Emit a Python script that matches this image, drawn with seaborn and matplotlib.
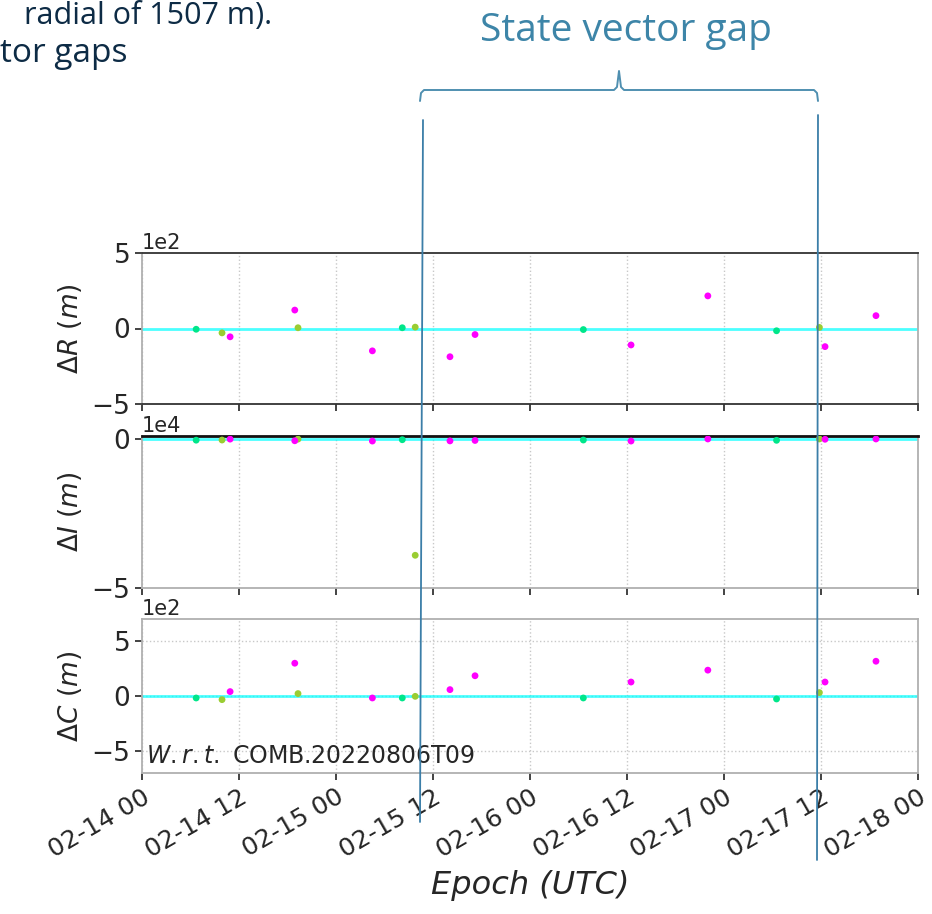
import pandas as pd
import matplotlib
matplotlib.use("Agg")
import matplotlib.pyplot as plt
import matplotlib.dates as mdates
import matplotlib.ticker as mticker
from matplotlib.lines import Line2D
import seaborn as sns

# epochs of the three solutions (UTC)
epoch_green = ["2022-02-14 06:42", "2022-02-15 08:12", "2022-02-16 06:36", "2022-02-17 06:30"]
epoch_olive = ["2022-02-14 09:54", "2022-02-14 19:18", "2022-02-15 09:48", "2022-02-17 11:48"]
epoch_pink = ["2022-02-14 10:54", "2022-02-14 18:54", "2022-02-15 04:30", "2022-02-15 14:06",
              "2022-02-15 17:12", "2022-02-16 12:30", "2022-02-16 22:00", "2022-02-17 12:30",
              "2022-02-17 18:48"]

# radial / in-track / cross-track differences (m)
dr_green = [-5, 5, -7, -15]
dr_olive = [-29, 5, 9, 7]
dr_pink = [-55, 122, -148, -187, -40, -109, 216, -120, 85]

di_green = [-300, -150, -250, -350]
di_olive = [-250, 50, -39000, 100]
di_pink = [50, -500, -600, -550, -400, -600, 100, 0, 100]

dc_green = [-18, -18, -18, -27]
dc_olive = [-33, 22, -3, 31]
dc_pink = [40, 298, -18, 58, 184, 127, 235, 127, 316]

series = ["green", "olive", "pink"]
palette = {"green": "#00e68a", "olive": "#9acd32", "pink": "#ff00ff"}

x_start, x_end = "2022-02-14 00:00", "2022-02-18 00:00"
ylabels = [r"$\Delta R\ (m)$", r"$\Delta I\ (m)$", r"$\Delta C\ (m)$"]
ylims = [(-500, 500), (-50000, 1100), (-700, 700)]
yticks = [[-500, 0, 500], [-50000, 0], [-500, 0, 500]]

frames = []
for name, ep, r, i, c in [("green", epoch_green, dr_green, di_green, dc_green),
                          ("olive", epoch_olive, dr_olive, di_olive, dc_olive),
                          ("pink", epoch_pink, dr_pink, di_pink, dc_pink)]:
    frames.append(pd.DataFrame({"epoch": pd.to_datetime(ep), "dR": r, "dI": i, "dC": c, "sol": name}))
df = pd.concat(frames, ignore_index=True)

sns.set_theme(style="white")
plt.rcParams["font.family"] = ["DejaVu Sans"]
W, H = 932, 914
fig = plt.figure(figsize=(W / 100, H / 100), dpi=100)

def px(x, y):
    return x / W, 1 - y / H

# axes boxes (left, top, right, bottom) in pixels
boxes = [(142, 253, 918, 404), (142, 436, 918, 588), (142, 619, 918, 773)]
axes = []
for (l, t, r, b) in boxes:
    axes.append(fig.add_axes([l / W, 1 - b / H, (r - l) / W, (b - t) / H]))

for k, (ax, col) in enumerate(zip(axes, ["dR", "dI", "dC"])):
    ax.axhline(0, color="#00ffff", lw=2, alpha=0.7, zorder=1)
    sns.scatterplot(data=df, x="epoch", y=col, hue="sol", palette=palette, hue_order=series,
                    s=24, edgecolor="none", legend=False, ax=ax, zorder=3)
    ax.set_xlim(pd.Timestamp(x_start), pd.Timestamp(x_end))
    ax.set_ylim(*ylims[k])
    ax.set_yticks(yticks[k])
    fmt = mticker.ScalarFormatter(useMathText=False)
    fmt.set_powerlimits((0, 0))
    ax.yaxis.set_major_formatter(fmt)
    ax.yaxis.get_offset_text().set_fontsize(15)
    ax.xaxis.set_major_locator(mdates.HourLocator(byhour=[0, 12]))
    ax.xaxis.set_major_formatter(mdates.DateFormatter("%m-%d %H"))
    ax.grid(True, axis="x", color="#c8c8c8", ls=":", lw=1)
    if k == 2:
        ax.grid(True, axis="y", color="#c8c8c8", ls=":", lw=1)
    ax.tick_params(axis="both", direction="out", length=5, width=1.2, color="#222222",
                   labelsize=19, bottom=True, left=True)
    ax.set_ylabel(ylabels[k], fontsize=19)
    ax.yaxis.set_label_coords(-0.075, 0.5)
    ax.set_xlabel("")
    for s in ax.spines.values():
        s.set_color("#b0b0b0")
        s.set_linewidth(1.3)
    if k < 2:
        ax.tick_params(labelbottom=False)

axes[0].spines["top"].set_color("#333333")
axes[0].spines["bottom"].set_color("#333333")
axes[1].spines["top"].set_color("#111111")
axes[1].spines["top"].set_linewidth(2)

ax3 = axes[2]
for lab in ax3.get_xticklabels():
    lab.set_rotation(30)
    lab.set_ha("right")
    lab.set_rotation_mode("anchor")
    lab.set_fontsize(18)
ax3.set_xlabel("Epoch (UTC)", fontsize=23, style="italic", labelpad=6)
ax3.text(0.005, 0.03, r"$W.r.t.$ COMB.20220806T09", transform=ax3.transAxes,
         fontsize=17, ha="left", va="bottom")

# slide annotations
fig.text(*px(272, 24), "radial of 1507 m).", fontsize=22, color="#0d2b45",
         family="Open Sans", ha="right", va="baseline")
fig.text(*px(128, 62), "tor gaps", fontsize=24, color="#0d2b45",
         family="Open Sans", ha="right", va="baseline")
fig.text(*px(626, 41), "State vector gap", fontsize=28, color="#3d85a8",
         family="Open Sans", ha="center", va="baseline")

blue = "#3b7ea8"
bx = [420, 421, 424, 614, 617, 619, 621, 624, 814, 817, 818]
by = [101, 93, 90, 90, 87, 71, 87, 90, 90, 93, 101]
fig.add_artist(Line2D([x / W for x in bx], [1 - y / H for y in by],
                      transform=fig.transFigure, color="#4f8fb0", lw=1.4, zorder=10))
fig.add_artist(Line2D([423 / W, 420 / W], [1 - 120 / H, 1 - 822 / H],
                      transform=fig.transFigure, color=blue, lw=1.3, zorder=10))
fig.add_artist(Line2D([818 / W, 817 / W], [1 - 115 / H, 1 - 860 / H],
                      transform=fig.transFigure, color=blue, lw=1.3, zorder=10))

fig.savefig("out.png", dpi=100, facecolor="white")
